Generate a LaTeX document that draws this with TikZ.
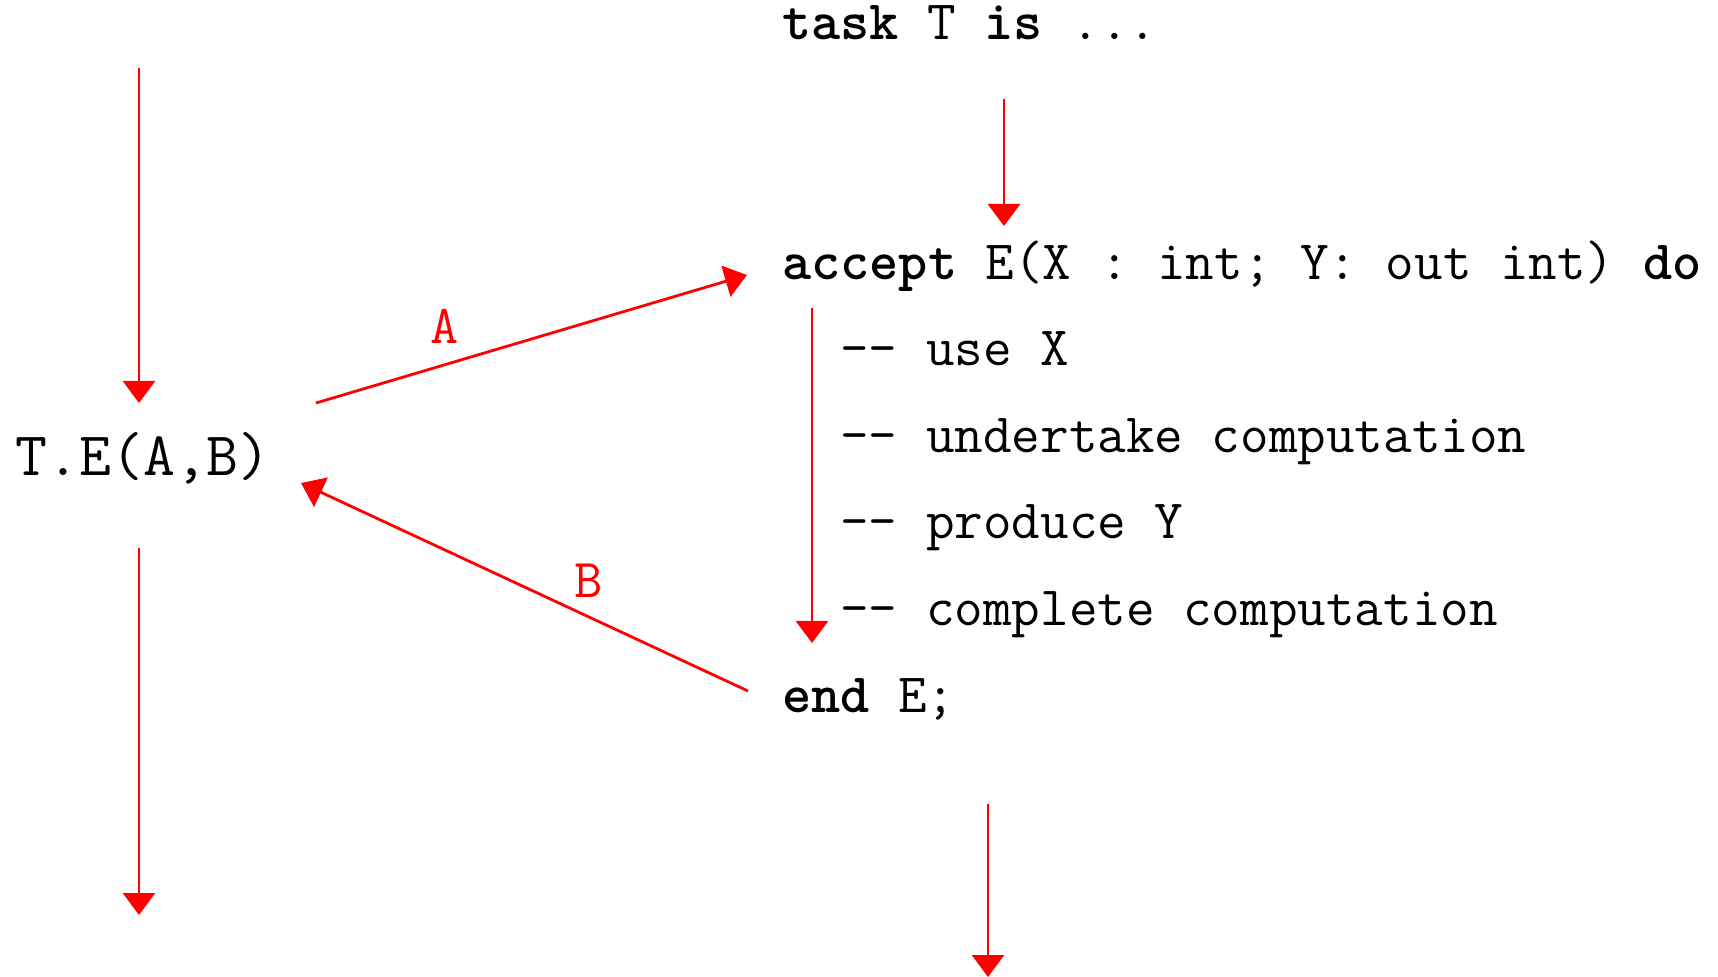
\documentclass[tikz,border=0pt]{standalone}
\usepackage{fontspec}
\usetikzlibrary{arrows.meta}
\begin{document}
\begin{tikzpicture}[x=0.5pt,y=-0.5pt,
  code/.style={anchor=base west,inner sep=0pt,font=\ttfamily\fontsize{27.75}{27.75}\selectfont},
  call/.style={anchor=base west,inner sep=0pt,font=\ttfamily\fontsize{31}{31}\selectfont},
  lbl/.style={anchor=base,inner sep=0pt,text=red,font=\ttfamily\fontsize{27.4}{27.4}\selectfont},
  flow/.style={draw=red,line width=1.4pt,-{Triangle[length=11pt,width=16pt]}}]
\useasboundingbox (0,0) rectangle (1718,977);

% caller side
\node[call] (call) at (15,476) {T.E(A,B)};

% task body
\node[code] (task)   at (782,40)  {\textbf{task} T \textbf{is} ...};
\node[code] (accept) at (782,280) {\textbf{accept} E(X : int; Y: out int) \textbf{do}};
\node[code] (c1)     at (840,366) {-{}- use X};
\node[code] (c2)     at (840,452.5) {-{}- undertake computation};
\node[code] (c3)     at (840,539) {-{}- produce Y};
\node[code] (c4)     at (840,625.5) {-{}- complete computation};
\node[code] (endE)   at (782,712) {\textbf{end} E;};

% flow end points
\coordinate (callIn)   at (139,68);
\coordinate (callTop)  at (139,403);
\coordinate (callBot)  at (139,548);
\coordinate (callOut)  at (139,915);
\coordinate (taskIn)   at (1004,99);
\coordinate (taskAcc)  at (1004,226);
\coordinate (bodyTop)  at (812,308);
\coordinate (bodyBot)  at (812,643);
\coordinate (taskBot)  at (988,804);
\coordinate (taskOut)  at (988,977);
\coordinate (aFrom)    at (316,403);
\coordinate (aTo)      at (747,275);
\coordinate (bFrom)    at (748,691);
\coordinate (bTo)      at (301,483);

% threads of control
\draw[flow] (callIn) -- (callTop);
\draw[flow] (callBot) -- (callOut);
\draw[flow] (taskIn) -- (taskAcc);
\draw[flow] (bodyTop) -- (bodyBot);
\draw[flow] (taskBot) -- (taskOut);

% parameter passing
\draw[flow] (aFrom) -- (aTo);
\draw[flow] (bFrom) -- (bTo);
\node[lbl] (labA) at (445,344) {A};
\node[lbl] (labB) at (589,598) {B};
\end{tikzpicture}
\end{document}
